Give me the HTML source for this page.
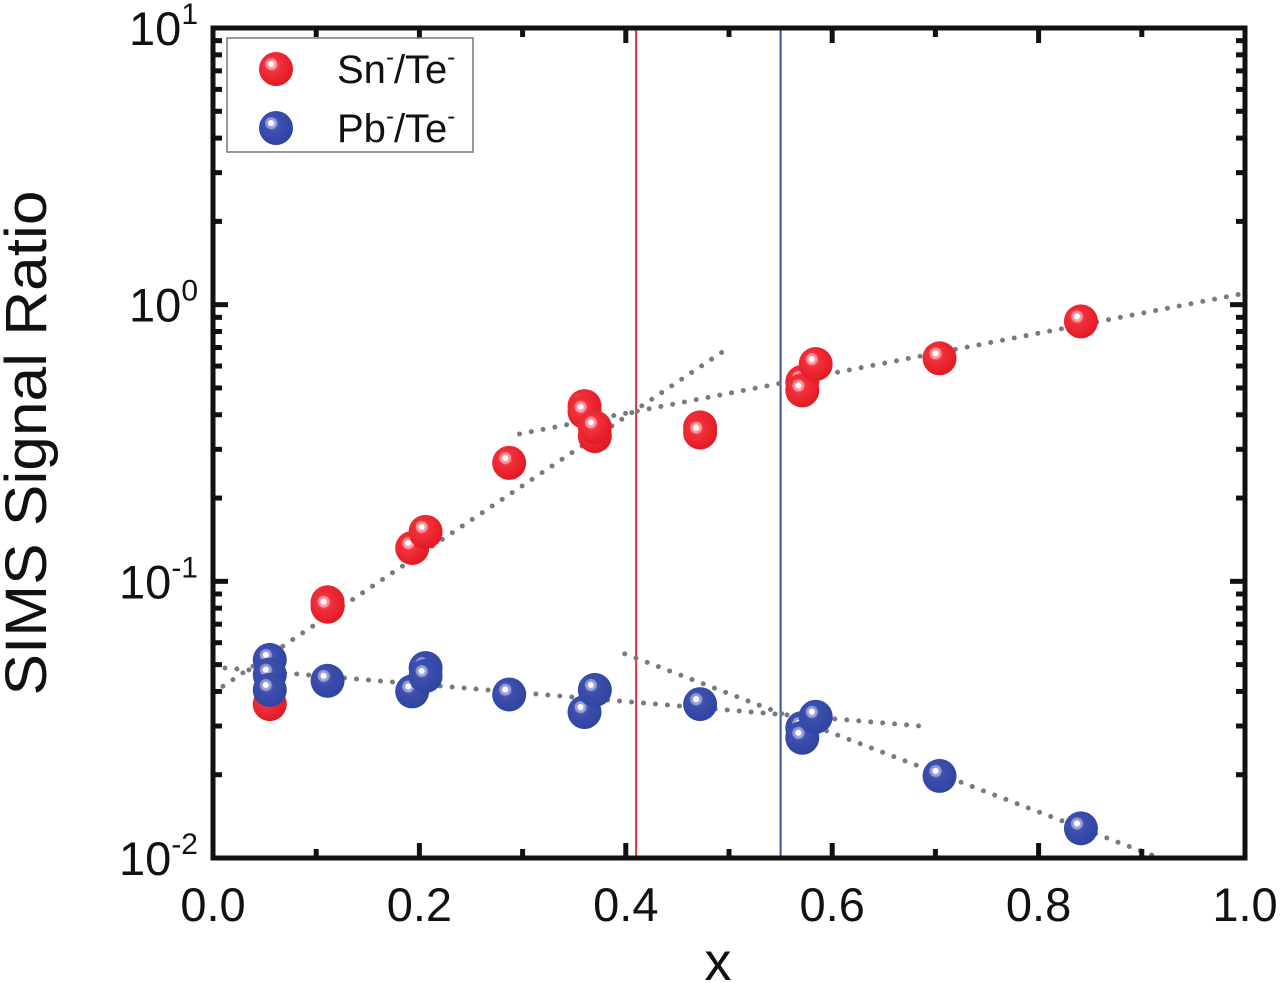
<!DOCTYPE html>
<html><head><meta charset="utf-8"><style>
html,body{margin:0;padding:0;background:#fff;}
svg{display:block;font-family:"Liberation Sans",Arial,sans-serif;}
</style></head><body>
<svg id="chart" width="1280" height="983" viewBox="0 0 1280 983">
<defs>
<radialGradient id="gr" cx="0.4" cy="0.38" r="0.6">
<stop offset="0" stop-color="#ff9aa6"/><stop offset="0.35" stop-color="#f0303c"/><stop offset="1" stop-color="#e31b23"/></radialGradient>
<radialGradient id="gb" cx="0.4" cy="0.38" r="0.6">
<stop offset="0" stop-color="#9a9ce0"/><stop offset="0.35" stop-color="#3e4fae"/><stop offset="1" stop-color="#2f45a2"/></radialGradient>
</defs>
<g id="plot"></g>
</svg>
<script>
const xTickLabels = ["0.0","0.2","0.4","0.6","0.8","1.0"];
const xTicks = [0,0.2,0.4,0.6,0.8,1.0];
const yTickExp = ["1","0","-1","-2"];
const yTicks = [1,0,-1,-2];
const snX = [0.055,0.111,0.111,0.193,0.206,0.287,0.36,0.36,0.37,0.37,0.472,0.472,0.571,0.571,0.584,0.704,0.841];
const snY = [0.036,0.084,0.081,0.132,0.151,0.268,0.43,0.41,0.335,0.36,0.36,0.345,0.526,0.49,0.61,0.64,0.87];
const pbX = [0.055,0.055,0.055,0.111,0.193,0.206,0.206,0.287,0.36,0.37,0.472,0.571,0.571,0.584,0.704,0.841];
const pbY = [0.052,0.046,0.0405,0.0437,0.040,0.0486,0.0455,0.039,0.0337,0.0405,0.036,0.0295,0.0272,0.0324,0.0198,0.0128];
const fitX1 = [0,0.5], fitY1 = [0.0395,0.70];
const fitX2 = [0.297,1.0], fitY2 = [0.341,1.10];
const fitX3 = [0,0.694], fitY3 = [0.049,0.0298];
const fitX4 = [0.399,0.917], fitY4 = [0.0547,0.01];
const vRed = 0.41, vBlue = 0.55;

const L=213,R=1245,T=28,B=858;
const sx = v => L + v*(R-L);
const sy = v => T + (1-Math.log10(v))*(B-T)/3;
const NS="http://www.w3.org/2000/svg";
const g=document.getElementById('plot');
function el(tag,attrs,parent){const e=document.createElementNS(NS,tag);for(const k in attrs)e.setAttribute(k,attrs[k]);(parent||g).appendChild(e);return e;}

let v1=el('line',{x1:sx(vRed),x2:sx(vRed),y1:T,y2:B,stroke:'#d9333b','stroke-width':2});


let v2=el('line',{x1:sx(vBlue),x2:sx(vBlue),y1:T,y2:B,stroke:'#3b4f9a','stroke-width':2});



[[fitX1,fitY1,'sn-fit-low'],[fitX2,fitY2,'sn-fit-high'],[fitX3,fitY3,'pb-fit-low'],[fitX4,fitY4,'pb-fit-high']].forEach(f=>{
  const ln=el('line',{x1:sx(f[0][0]),y1:sy(f[1][0]),x2:sx(f[0][1]),y2:sy(f[1][1]),stroke:'#7a7a7e','stroke-width':5,'stroke-dasharray':'0 12','stroke-linecap':'round'});
  
  
});

function marker(cx,cy,grad,name){
  const gg=el('g',{});
  
  
  el('circle',{cx:cx,cy:cy,r:17,fill:'url(#'+grad+')'},gg);
  el('circle',{cx:cx-4,cy:cy-5,r:6,fill:'#fff',opacity:0.35},gg);
  el('circle',{cx:cx-4,cy:cy-5,r:3,fill:'#fff'},gg);
}
snX.forEach((x,i)=>marker(sx(x),sy(snY[i]),'gr','sn-point'));
pbX.forEach((x,i)=>marker(sx(x),sy(pbY[i]),'gb','pb-point'));

let fr=el('rect',{x:L,y:T,width:R-L,height:B-T,fill:'none',stroke:'#111','stroke-width':5});



xTicks.forEach((t,i)=>{
  el('line',{x1:sx(t),x2:sx(t),y1:B,y2:B-15,stroke:'#111','stroke-width':5});
  el('line',{x1:sx(t),x2:sx(t),y1:T,y2:T+15,stroke:'#111','stroke-width':5});
  if(i<xTicks.length-1){const m=t+0.1;
    el('line',{x1:sx(m),x2:sx(m),y1:B,y2:B-9,stroke:'#111','stroke-width':5});
    el('line',{x1:sx(m),x2:sx(m),y1:T,y2:T+9,stroke:'#111','stroke-width':5});}
  const tx=el('text',{x:sx(t),y:921,'font-size':47,'text-anchor':'middle',fill:'#111'});
  tx.textContent=xTickLabels[i];
  
  
});
yTicks.forEach((e,i)=>{
  const y=sy(Math.pow(10,e));
  el('line',{x1:L,x2:L+15,y1:y,y2:y,stroke:'#111','stroke-width':5});
  el('line',{x1:R,x2:R-15,y1:y,y2:y,stroke:'#111','stroke-width':5});
  if(e>-2){for(let k=2;k<10;k++){const yy=sy(k*Math.pow(10,e-1));
    el('line',{x1:L,x2:L+9,y1:yy,y2:yy,stroke:'#111','stroke-width':5});
    el('line',{x1:R,x2:R-9,y1:yy,y2:yy,stroke:'#111','stroke-width':5});}}
  const tx=el('text',{x:198,y:y+17,'font-size':47,'text-anchor':'end',fill:'#111'});
  const a=el('tspan',{},tx);a.textContent='10';
  const b=el('tspan',{'font-size':30,dy:-21},tx);b.textContent=yTickExp[i];
  
  
});

let xt=el('text',{x:718,y:980,'font-size':54,'text-anchor':'middle',fill:'#111'});xt.textContent='x';


let yt=el('text',{x:0,y:0,'font-size':58,'text-anchor':'middle',fill:'#111',textLength:505,lengthAdjust:'spacingAndGlyphs',transform:'translate(46,443) rotate(-90)'});yt.textContent='SIMS Signal Ratio';



const lg=el('g',{});


el('rect',{x:227,y:38,width:246,height:114,fill:'#fff',stroke:'#777','stroke-width':1.5},lg);
const items=[['gr','Sn','sn'],['gb','Pb','pb']];
items.forEach((it,i)=>{
  const cy=69+i*59;
  const e=el('g',{},lg);
  
  
  el('circle',{cx:276,cy:cy,r:17,fill:'url(#'+it[0]+')'},e);
  el('circle',{cx:271,cy:cy-5,r:6,fill:'#fff',opacity:0.35},e);
  el('circle',{cx:271,cy:cy-5,r:3,fill:'#fff'},e);
  const t=el('text',{x:337,y:cy+14,'font-size':40,fill:'#111'},e);
  const s1=el('tspan',{},t);s1.textContent=it[1];
  const s2=el('tspan',{'font-size':24,dy:-18},t);s2.textContent='-';
  const s3=el('tspan',{dy:18},t);s3.textContent='/Te';
  const s4=el('tspan',{'font-size':24,dy:-18},t);s4.textContent='-';
});
</script>
</body></html>
